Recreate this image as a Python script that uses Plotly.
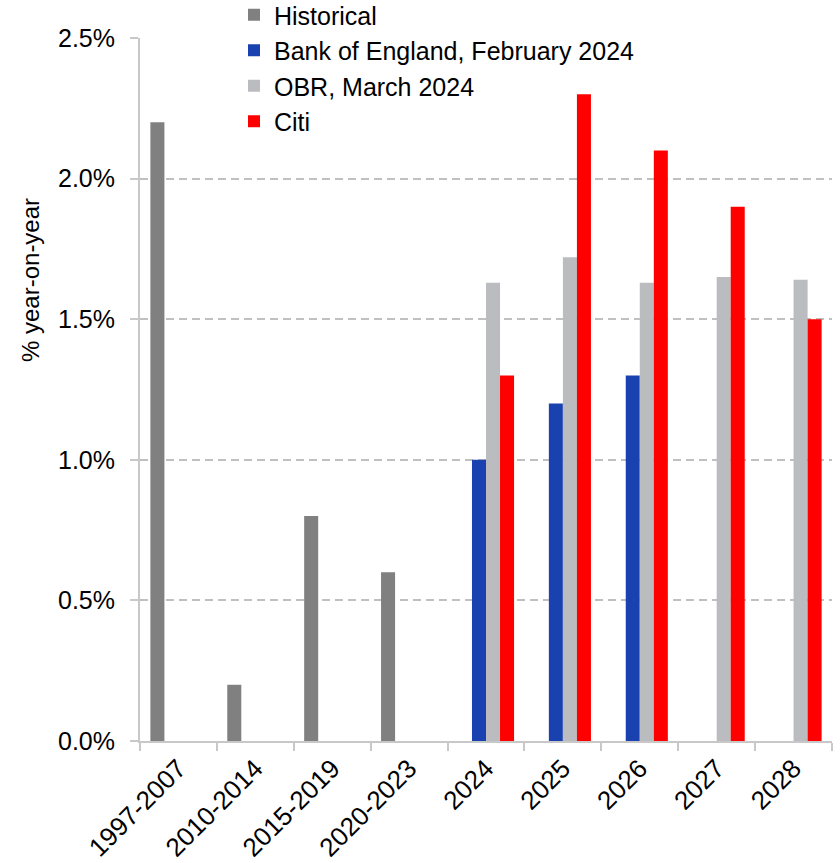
import plotly.graph_objects as go

categories = ["1997-2007", "2010-2014", "2015-2019", "2020-2023", "2024", "2025", "2026", "2027", "2028"]
historical = [2.2, 0.2, 0.8, 0.6, None, None, None, None, None]
boe = [None, None, None, None, 1.0, 1.2, 1.3, None, None]
obr = [None, None, None, None, 1.63, 1.72, 1.63, 1.65, 1.64]
citi = [None, None, None, None, 1.3, 2.3, 2.1, 1.9, 1.5]
y_tick_values = [0, 0.5, 1.0, 1.5, 2.0, 2.5]
y_tick_labels = ["0.0%", "0.5%", "1.0%", "1.5%", "2.0%", "2.5%"]

series = [
    ("Historical", historical, "#808080"),
    ("Bank of England, February 2024", boe, "#1a41b0"),
    ("OBR, March 2024", obr, "#bbbcc0"),
    ("Citi", citi, "#ff0000"),
]

FONT = "Liberation Sans, Arial, sans-serif"

fig = go.Figure()
for name, vals, color in series:
    fig.add_trace(go.Bar(
        x=categories, y=vals, name=name,
        marker=dict(color=color, line=dict(width=0)),
    ))

fig.update_layout(
    width=840, height=863,
    margin=dict(l=140, r=8, t=38, b=122, autoexpand=False),
    paper_bgcolor="white", plot_bgcolor="white",
    barmode="group", bargap=0.27, bargroupgap=0,
    font=dict(family=FONT, color="black"),
    showlegend=True,
    legend=dict(
        x=(234 - 140) / 692, xanchor="left",
        y=(741 + 8) / 703, yanchor="top",
        font=dict(family=FONT, size=25, color="black"),
        bgcolor="rgba(0,0,0,0)",
        itemwidth=30, tracegroupgap=0,
        traceorder="normal",
    ),
    xaxis=dict(
        type="category",
        showline=True, linecolor="#c8c8c8", linewidth=2,
        ticks="outside", ticklen=8, tickcolor="#c8c8c8", tickwidth=2,
        tickson="boundaries",
        tickangle=-45,
        tickfont=dict(family=FONT, size=26, color="black"),
        showgrid=False,
        range=[-0.5, 8.5],
    ),
    yaxis=dict(
        range=[0, 2.5],
        tickvals=y_tick_values,
        ticktext=y_tick_labels,
        showline=True, linecolor="#c8c8c8", linewidth=2,
        ticks="outside", ticklen=8, tickcolor="#c8c8c8", tickwidth=2,
        ticklabelstandoff=10,
        tickfont=dict(family=FONT, size=25, color="black"),
        showgrid=True, gridcolor="#c0c0c0", gridwidth=2, griddash="8px,5px",
        zeroline=False,
    ),
    annotations=[dict(
        text="% year-on-year", textangle=-90,
        xref="paper", yref="paper",
        x=(30 - 140) / 692, y=(741 - 280) / 703,
        xanchor="center", yanchor="middle",
        showarrow=False,
        font=dict(family=FONT, size=24, color="black"),
    )],
)

fig.write_html("out.html")
